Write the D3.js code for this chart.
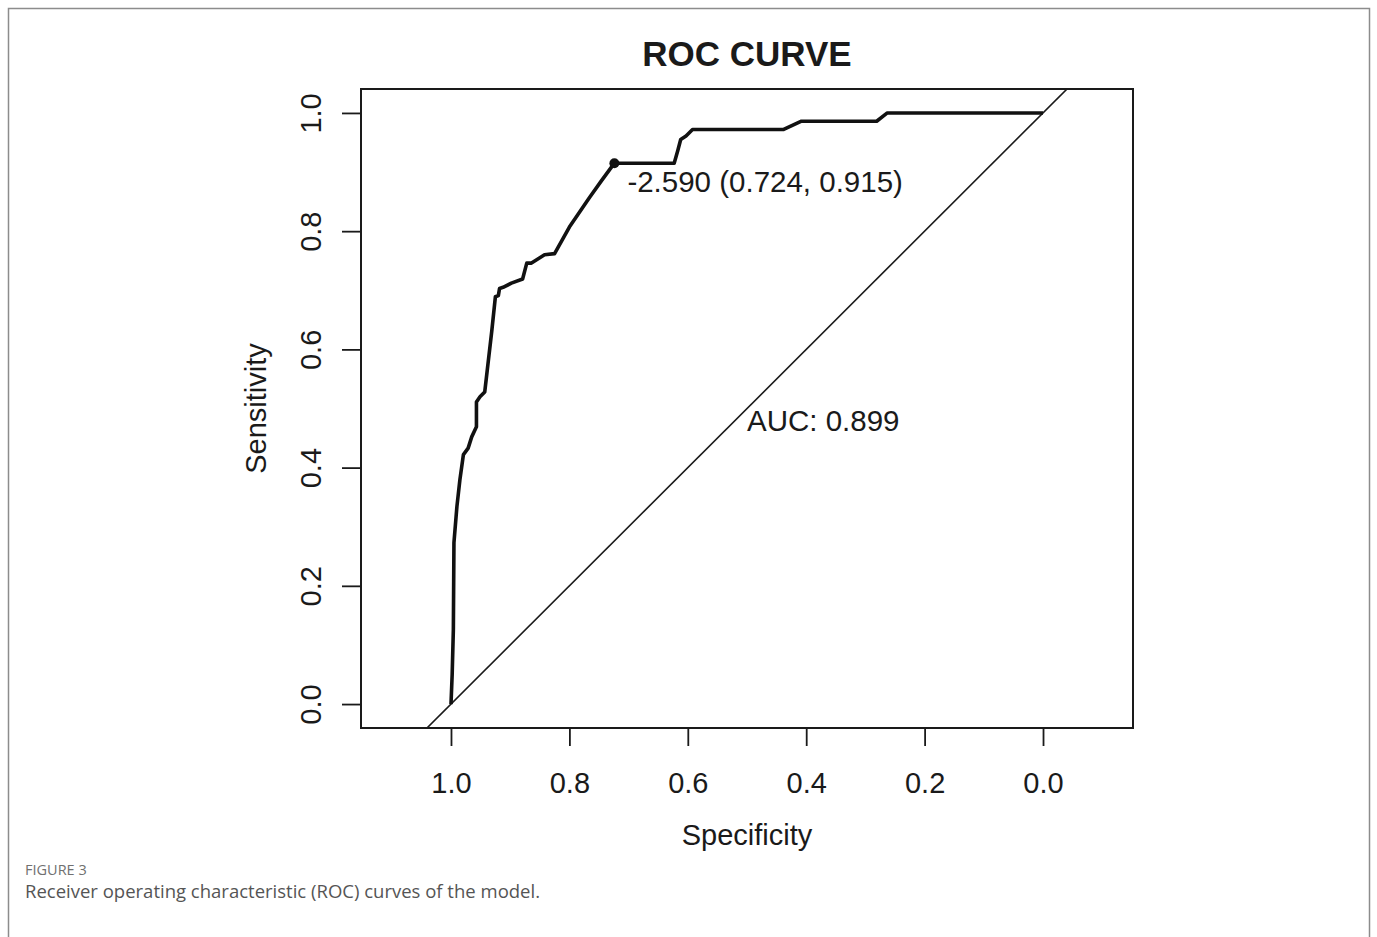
<!DOCTYPE html>
<html>
<head>
<meta charset="utf-8">
<script src="https://cdn.jsdelivr.net/npm/d3@7"></script>
<style>
  body { margin: 0; background: #fff; }
  svg text { font-family: "Liberation Sans", Arial, sans-serif; fill: #1a1a1a; }
  .caption text { font-family: "Open Sans", sans-serif; }
</style>
</head>
<body>
<div id="chart"></div>
<script>
// ROC curve points: specificity / sensitivity
const specificity = [1.000, 0.998, 0.996, 0.995, 0.990, 0.985, 0.979, 0.971, 0.965, 0.957, 0.957, 0.951, 0.943,
  0.931, 0.925, 0.920, 0.918, 0.912, 0.898, 0.879, 0.872, 0.864, 0.842, 0.825, 0.800, 0.766, 0.746, 0.724,
  0.623, 0.617, 0.612, 0.603, 0.592, 0.438, 0.408, 0.281, 0.263, 0.000];
const sensitivity = [0.000, 0.050, 0.126, 0.273, 0.334, 0.379, 0.422, 0.433, 0.452, 0.469, 0.511, 0.520, 0.528,
  0.632, 0.689, 0.691, 0.703, 0.705, 0.712, 0.719, 0.746, 0.746, 0.760, 0.762, 0.807, 0.857, 0.885, 0.915,
  0.915, 0.936, 0.955, 0.961, 0.972, 0.972, 0.986, 0.986, 1.000, 1.000];
const bestThreshold = { label: "-2.590 (0.724, 0.915)", spec: 0.724, sens: 0.915 };
const aucLabel = "AUC: 0.899";
const tickValues = [1.0, 0.8, 0.6, 0.4, 0.2, 0.0];

const width = 1377, height = 937;
const box = { left: 361, right: 1133, top: 89, bottom: 728 };

const svg = d3.select("#chart").append("svg")
  .attr("width", width)
  .attr("height", height);

// outer frame of the figure panel
svg.append("rect")
  .attr("x", 8.5).attr("y", 8.5)
  .attr("width", 1361).attr("height", 960)
  .attr("fill", "none")
  .attr("stroke", "#8c8c8c")
  .attr("stroke-width", 1.5);

// scales (specificity axis is reversed, aspect 1:1)
const x = d3.scaleLinear().domain([1.152, -0.152]).range([box.left, box.right]);
const y = d3.scaleLinear().domain([-0.0405, 1.0405]).range([box.bottom, box.top]);

// clip for the diagonal reference line
svg.append("clipPath").attr("id", "plotclip")
  .append("rect")
  .attr("x", box.left).attr("y", box.top)
  .attr("width", box.right - box.left).attr("height", box.bottom - box.top);

// diagonal (chance) line
svg.append("line")
  .attr("clip-path", "url(#plotclip)")
  .attr("x1", x(1.2)).attr("y1", y(-0.2))
  .attr("x2", x(-0.2)).attr("y2", y(1.2))
  .attr("stroke", "#1a1a1a")
  .attr("stroke-width", 1.6);

// ROC curve
const pts = specificity.map((s, i) => [s, sensitivity[i]]);
const line = d3.line().x(d => x(d[0])).y(d => y(d[1]));
svg.append("path")
  .datum(pts)
  .attr("d", line)
  .attr("fill", "none")
  .attr("stroke", "#111")
  .attr("stroke-width", 3.6)
  .attr("stroke-linejoin", "round");

// best threshold point + label
svg.append("circle")
  .attr("cx", x(bestThreshold.spec))
  .attr("cy", y(bestThreshold.sens))
  .attr("r", 5)
  .attr("fill", "#111");

svg.append("text")
  .attr("x", x(bestThreshold.spec) + 13)
  .attr("y", y(bestThreshold.sens) + 29)
  .attr("font-size", 29.5)
  .text(bestThreshold.label);

// AUC label
svg.append("text")
  .attr("x", x(0.5))
  .attr("y", y(0.5) + 22)
  .attr("font-size", 29.5)
  .text(aucLabel);

// plot box
svg.append("rect")
  .attr("x", box.left).attr("y", box.top)
  .attr("width", box.right - box.left).attr("height", box.bottom - box.top)
  .attr("fill", "none")
  .attr("stroke", "#1a1a1a")
  .attr("stroke-width", 2);

// x axis
const xAxis = svg.append("g")
  .attr("transform", `translate(0,${box.bottom})`)
  .call(d3.axisBottom(x).tickValues(tickValues).tickFormat(d3.format(".1f"))
    .tickSize(18).tickPadding(26));
xAxis.select(".domain").remove();
xAxis.selectAll(".tick line").attr("stroke", "#1a1a1a").attr("stroke-width", 1.8);
xAxis.selectAll(".tick text").attr("font-size", 29).attr("fill", "#1a1a1a")
  .attr("font-family", "Liberation Sans, Arial, sans-serif");

// y axis
const yAxis = svg.append("g")
  .attr("transform", `translate(${box.left},0)`)
  .call(d3.axisLeft(y).tickValues(tickValues.slice().reverse()).tickFormat(d3.format(".1f"))
    .tickSize(19).tickPadding(0));
yAxis.select(".domain").remove();
yAxis.selectAll(".tick line").attr("stroke", "#1a1a1a").attr("stroke-width", 1.8);
yAxis.selectAll(".tick text")
  .attr("font-size", 29).attr("fill", "#1a1a1a")
  .attr("font-family", "Liberation Sans, Arial, sans-serif")
  .attr("x", null).attr("dy", null)
  .attr("text-anchor", "middle")
  .attr("transform", `translate(${321 - box.left},0) rotate(-90)`);

// title and axis labels
svg.append("text")
  .attr("x", (box.left + box.right) / 2)
  .attr("y", 66)
  .attr("text-anchor", "middle")
  .attr("font-size", 35)
  .attr("font-weight", "bold")
  .text("ROC CURVE");

svg.append("text")
  .attr("x", (box.left + box.right) / 2)
  .attr("y", 845)
  .attr("text-anchor", "middle")
  .attr("font-size", 29)
  .text("Specificity");

svg.append("text")
  .attr("transform", `translate(266,${(box.top + box.bottom) / 2}) rotate(-90)`)
  .attr("text-anchor", "middle")
  .attr("font-size", 29)
  .text("Sensitivity");

// caption
const cap = svg.append("g").attr("class", "caption");
cap.append("text")
  .attr("x", 25).attr("y", 875)
  .attr("font-size", 14.5)
  .style("fill", "#707070")
  .text("FIGURE 3");
cap.append("text")
  .attr("x", 25).attr("y", 898)
  .attr("font-size", 18.5)
  .style("fill", "#555")
  .text("Receiver operating characteristic (ROC) curves of the model.");
</script>
</body>
</html>
